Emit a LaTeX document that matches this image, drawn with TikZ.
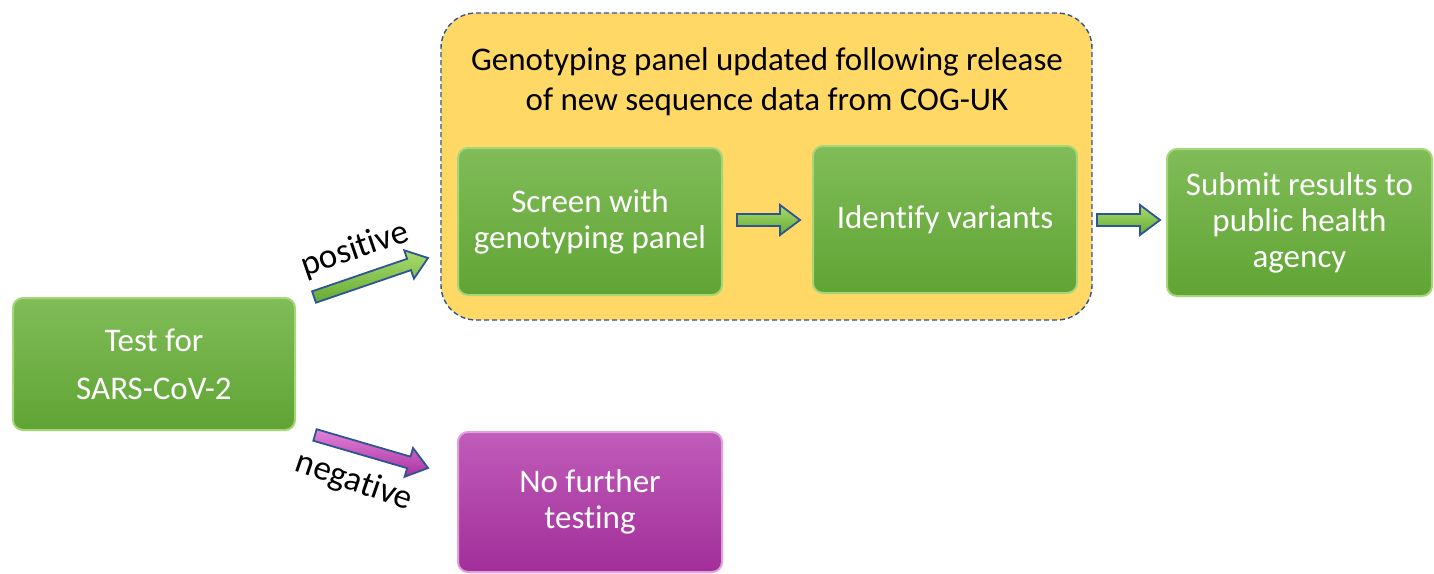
\documentclass[tikz,border=0pt]{standalone}
\usepackage{fontspec}
\setmainfont{Carlito}[Ligatures=NoCommon]
\usetikzlibrary{calc}
\definecolor{gtop}{RGB}{128,188,88}
\definecolor{gbot}{RGB}{96,164,52}
\definecolor{gedge}{RGB}{165,215,120}
\definecolor{mtop}{RGB}{192,92,186}
\definecolor{mbot}{RGB}{162,46,154}
\definecolor{medge}{RGB}{225,160,220}
\definecolor{ybg}{RGB}{255,216,102}
\definecolor{dblue}{RGB}{47,84,150}
\definecolor{agtop}{RGB}{170,220,110}
\definecolor{agbot}{RGB}{100,170,50}
\definecolor{amtop}{RGB}{225,130,215}
\definecolor{ambot}{RGB}{170,50,160}
\tikzset{
  box/.style={rounded corners=10pt, draw=gedge, line width=2pt, top color=gtop, bottom color=gbot,
    text=white, align=center, inner sep=0pt, font=\fontsize{33}{36}\selectfont},
  magbox/.style={box, draw=medge, top color=mtop, bottom color=mbot},
  panel/.style={rounded corners=35pt, draw=dblue, line width=1.4pt, dash pattern=on 5pt off 3pt, fill=ybg},
  lbl/.style={font=\fontsize{35}{36}\selectfont, inner sep=0pt},
  garrow/.style={draw=dblue, line width=1.8pt, line join=miter, top color=agtop, bottom color=agbot},
  marrow/.style={draw=dblue, line width=1.8pt, line join=miter, top color=amtop, bottom color=ambot}
}
\newcommand\blockarr[3]{%
  \coordinate (hb) at ($(#2)!20pt!(#1)$);
  \draw[#3] ($(#1)!6pt!90:(#2)$) -- ($(hb)!6pt!90:(#2)$) -- ($(hb)!15pt!90:(#2)$) -- (#2)
    -- ($(hb)!15pt!-90:(#2)$) -- ($(hb)!6pt!-90:(#2)$) -- ($(#1)!6pt!-90:(#2)$) -- cycle;
}
\begin{document}
\begin{tikzpicture}[x=1pt,y=-1pt]
\useasboundingbox (0,0) rectangle (1434,573);
\node[panel, minimum width=651pt, minimum height=307pt] (panel) at (766.5,166.5) {};
\node[font=\fontsize{33}{40}\selectfont, align=center, inner sep=0pt] (title) at (767,82)
  {Genotyping panel updated following release\\of new sequence data from COG-UK};
\node[box, minimum width=282pt, minimum height=132pt, font=\fontsize{33}{48}\selectfont] (test) at (154,364) {Test for\\SARS-CoV-2};
\node[box, minimum width=264pt, minimum height=147pt] (screen) at (590,221.5) {Screen with\\genotyping panel};
\node[box, minimum width=264pt, minimum height=147pt] (ident) at (945,219.5) {Identify variants};
\node[box, minimum width=265pt, minimum height=147pt] (submit) at (1299.5,222.5) {Submit results to\\public health\\agency};
\node[magbox, minimum width=264pt, minimum height=140pt] (nofurther) at (590,502) {No further\\testing};
% arrow ends
\coordinate (pa) at (314,297);
\coordinate (pb) at (428,258);
\coordinate (na) at (315,435);
\coordinate (nb) at (428,468);
\coordinate (sa) at (737,220);
\coordinate (sb) at (800,220);
\coordinate (ia) at (1097,220);
\coordinate (ib) at (1160,220);
\blockarr{pa}{pb}{garrow}
\blockarr{na}{nb}{marrow}
\blockarr{sa}{sb}{garrow}
\blockarr{ia}{ib}{garrow}
\node[lbl, rotate=19] (pos) at (355,250) {positive};
\node[lbl, rotate=-19] (neg) at (354,482) {negative};
\end{tikzpicture}
\end{document}
